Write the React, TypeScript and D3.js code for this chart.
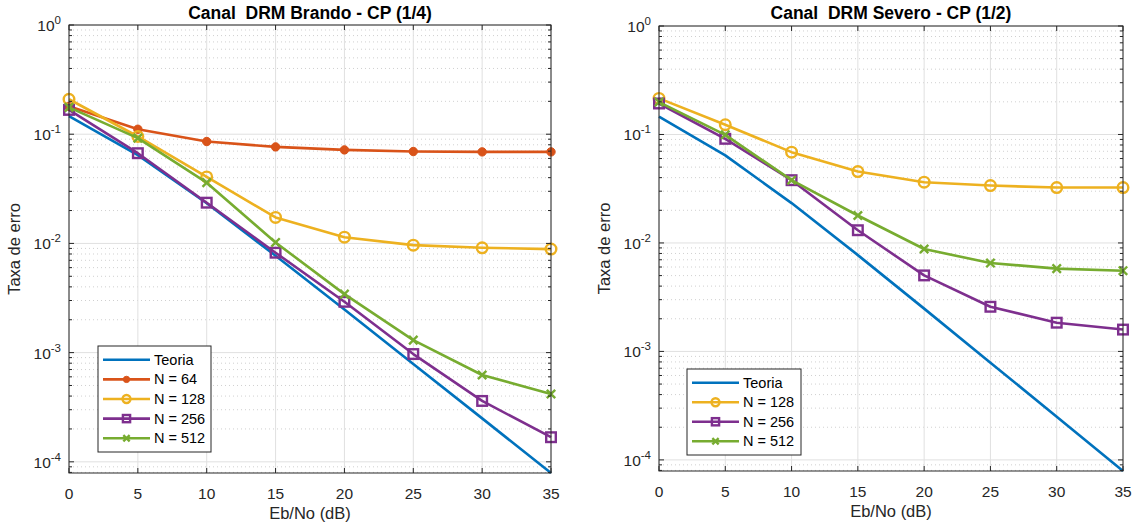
import React from "react";
import * as d3 from "d3";

const EBNO = [0, 5, 10, 15, 20, 25, 30, 35];
const X_TICKS = [0, 5, 10, 15, 20, 25, 30, 35];
const Y_EXPONENTS = [0, -1, -2, -3, -4];
const Y_MIN = 7.9e-5;

const teoria = [0.1464, 0.0642, 0.0233, 0.00772, 0.00248, 0.000788, 0.00025, 0.000079];

const brando64 = [0.18, 0.111, 0.0857, 0.0765, 0.0718, 0.0694, 0.0689, 0.0689];
const brando128 = [0.209, 0.0953, 0.0406, 0.0173, 0.0114, 0.00964, 0.00912, 0.00887];
const brando256 = [0.167, 0.067, 0.0236, 0.00822, 0.00292, 0.00097, 0.000361, 0.000168];
const brando512 = [0.176, 0.092, 0.036, 0.0102, 0.00343, 0.0013, 0.000624, 0.000418];

const severo128 = [0.215, 0.123, 0.0687, 0.0455, 0.0363, 0.0338, 0.0324, 0.0324];
const severo256 = [0.193, 0.0912, 0.0379, 0.0131, 0.00502, 0.00258, 0.00184, 0.00159];
const severo512 = [0.199, 0.0993, 0.0379, 0.0179, 0.00879, 0.00653, 0.0058, 0.00555];

const C = {
  blue: "#0072BD",
  red: "#D95319",
  yellow: "#EDB120",
  purple: "#7E2F8E",
  green: "#77AC30",
};

type Marker = "none" | "dot" | "circle" | "square" | "x";
interface Series {
  name: string;
  values: number[];
  color: string;
  marker: Marker;
}

const FONT = "'Liberation Sans', Arial, Helvetica, sans-serif";
const AX = "#262626";
const LW = 2.6;

function MarkerShape({ type, x, y, color, s = 1 }: { type: Marker; x: number; y: number; color: string; s?: number }) {
  if (type === "dot") return <circle cx={x} cy={y} r={4.2 * s} fill={color} stroke={color} strokeWidth={1} />;
  if (type === "circle") return <circle cx={x} cy={y} r={5.3 * s} fill="none" stroke={color} strokeWidth={2.4} />;
  if (type === "square") {
    const h = 4.8 * s;
    return <rect x={x - h} y={y - h} width={2 * h} height={2 * h} fill="none" stroke={color} strokeWidth={2.4} />;
  }
  if (type === "x") {
    const h = 4.2 * s;
    return (
      <path d={`M${x - h},${y - h}L${x + h},${y + h}M${x - h},${y + h}L${x + h},${y - h}`} stroke={color} strokeWidth={2.4} fill="none" />
    );
  }
  return null;
}

interface PlotProps {
  left: number;
  right: number;
  top: number;
  bottom: number;
  title: string;
  series: Series[];
  legend: { x: number; y: number; w: number; rowH: number };
  ylabelX: number;
}

function Plot({ left, right, top, bottom, title, series, legend, ylabelX }: PlotProps) {
  const x = d3.scaleLinear().domain([0, 35]).range([left, right]);
  const y = d3.scaleLog().domain([Y_MIN, 1]).range([bottom, top]);
  const line = d3
    .line<number>()
    .x((_, i) => x(EBNO[i]))
    .y((v) => y(v));

  const minor: number[] = [];
  for (let e = -5; e < 0; e++) {
    for (let k = 2; k <= 9; k++) {
      const v = k * Math.pow(10, e);
      if (v >= Y_MIN && v <= 1) minor.push(v);
    }
  }
  const major = Y_EXPONENTS.map((e) => Math.pow(10, e));

  const legH = legend.rowH * series.length + 8;

  return (
    <g>
      <rect x={left} y={top} width={right - left} height={bottom - top} fill="#fff" />
      {minor.map((v, i) => (
        <line key={"mg" + i} x1={left} x2={right} y1={y(v)} y2={y(v)} stroke="#c4c4c4" strokeWidth={0.8} strokeDasharray="1,3" />
      ))}
      {major.map((v, i) => (
        <line key={"Mg" + i} x1={left} x2={right} y1={y(v)} y2={y(v)} stroke="#e0e0e0" strokeWidth={1} />
      ))}
      {X_TICKS.map((t, i) => (
        <line key={"xg" + i} x1={x(t)} x2={x(t)} y1={top} y2={bottom} stroke="#e0e0e0" strokeWidth={1} />
      ))}
      {series.map((s, si) => (
        <g key={"s" + si}>
          <path d={line(s.values) || ""} fill="none" stroke={s.color} strokeWidth={LW} strokeLinejoin="round" />
          {s.marker !== "none" &&
            s.values.map((v, i) => <MarkerShape key={i} type={s.marker} x={x(EBNO[i])} y={y(v)} color={s.color} />)}
        </g>
      ))}
      <rect x={left} y={top} width={right - left} height={bottom - top} fill="none" stroke={AX} strokeWidth={1} />
      {X_TICKS.map((t, i) => (
        <g key={"xt" + i}>
          <line x1={x(t)} x2={x(t)} y1={bottom} y2={bottom - 5} stroke={AX} />
          <line x1={x(t)} x2={x(t)} y1={top} y2={top + 5} stroke={AX} />
          <text x={x(t)} y={bottom + 26} textAnchor="middle" fontSize={15.5} fill={AX} fontFamily={FONT}>
            {t}
          </text>
        </g>
      ))}
      {major.map((v, i) => (
        <g key={"yt" + i}>
          <line x1={left} x2={left + 5} y1={y(v)} y2={y(v)} stroke={AX} />
          <line x1={right} x2={right - 5} y1={y(v)} y2={y(v)} stroke={AX} />
          <text x={left - 8} y={y(v) + 6} textAnchor="end" fontSize={15.5} fill={AX} fontFamily={FONT}>
            <tspan>10</tspan>
            <tspan dy={-7} fontSize={11.5}>
              {String(Y_EXPONENTS[i])}
            </tspan>
          </text>
        </g>
      ))}
      {minor.map((v, i) => (
        <g key={"ymt" + i}>
          <line x1={left} x2={left + 3} y1={y(v)} y2={y(v)} stroke={AX} />
          <line x1={right} x2={right - 3} y1={y(v)} y2={y(v)} stroke={AX} />
        </g>
      ))}
      <text x={(left + right) / 2} y={bottom + 46} textAnchor="middle" fontSize={16.5} fill={AX} fontFamily={FONT}>
        Eb/No (dB)
      </text>
      <text
        transform={`translate(${ylabelX},${(top + bottom) / 2}) rotate(-90)`}
        textAnchor="middle"
        fontSize={16.5}
        fill={AX}
        fontFamily={FONT}
      >
        Taxa de erro
      </text>
      <text
        x={(left + right) / 2}
        y={19}
        textAnchor="middle"
        fontSize={17.5}
        fontWeight="bold"
        fill="#000"
        fontFamily={FONT}
        style={{ whiteSpace: "pre" }}
      >
        {title}
      </text>
      <g>
        <rect x={legend.x} y={legend.y} width={legend.w} height={legH} fill="#fff" stroke={AX} strokeWidth={1} />
        {series.map((s, i) => {
          const cy = legend.y + 4 + legend.rowH * (i + 0.5);
          const x1 = legend.x + 5;
          const x2 = legend.x + 52;
          return (
            <g key={"lg" + i}>
              <line x1={x1} x2={x2} y1={cy} y2={cy} stroke={s.color} strokeWidth={LW} />
              {s.marker !== "none" && <MarkerShape type={s.marker} x={(x1 + x2) / 2} y={cy} color={s.color} s={0.75} />}
              <text x={legend.x + 56} y={cy + 5} fontSize={14.5} fill="#000" fontFamily={FONT}>
                {s.name}
              </text>
            </g>
          );
        })}
      </g>
    </g>
  );
}

export default function App() {
  const leftSeries: Series[] = [
    { name: "Teoria", values: teoria, color: C.blue, marker: "none" },
    { name: "N = 64", values: brando64, color: C.red, marker: "dot" },
    { name: "N = 128", values: brando128, color: C.yellow, marker: "circle" },
    { name: "N = 256", values: brando256, color: C.purple, marker: "square" },
    { name: "N = 512", values: brando512, color: C.green, marker: "x" },
  ];
  const rightSeries: Series[] = [
    { name: "Teoria", values: teoria, color: C.blue, marker: "none" },
    { name: "N = 128", values: severo128, color: C.yellow, marker: "circle" },
    { name: "N = 256", values: severo256, color: C.purple, marker: "square" },
    { name: "N = 512", values: severo512, color: C.green, marker: "x" },
  ];
  return (
    <svg
      width={1138}
      height={530}
      style={{ position: "absolute", left: 0, top: 0, background: "#fff" }}
      xmlns="http://www.w3.org/2000/svg"
    >
      <rect x={0} y={0} width={1138} height={530} fill="#fff" />
      <Plot
        left={69}
        right={551}
        top={25}
        bottom={473}
        title={"Canal  DRM Brando - CP (1/4)"}
        series={leftSeries}
        legend={{ x: 98, y: 346, w: 113, rowH: 19.6 }}
        ylabelX={20}
      />
      <Plot
        left={659}
        right={1123}
        top={26}
        bottom={471}
        title={"Canal  DRM Severo - CP (1/2)"}
        series={rightSeries}
        legend={{ x: 687, y: 369, w: 114, rowH: 19.5 }}
        ylabelX={610}
      />
    </svg>
  );
}
